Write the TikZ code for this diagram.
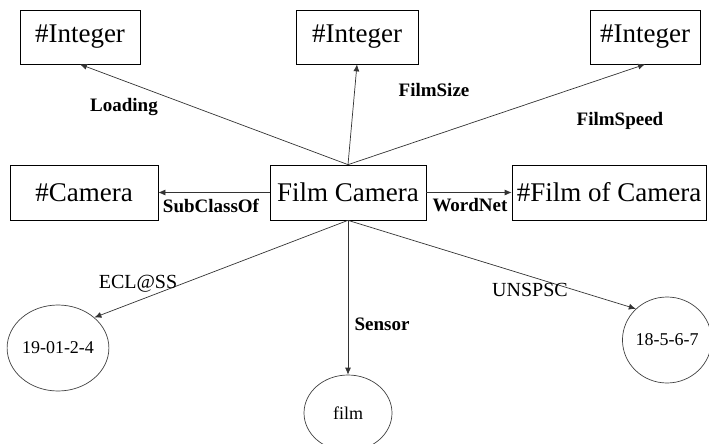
\documentclass[tikz,border=0pt]{standalone}
\usepackage{fontspec}
\setmainfont{Liberation Serif}
\usetikzlibrary{arrows.meta,shapes.geometric}

\tikzset{
  klasse/.style={draw, line width=0.7pt, inner sep=0pt, font=\fontsize{27}{30}\selectfont},
  wert/.style={draw=black!75, ellipse, line width=0.7pt, inner sep=0pt, font=\fontsize{18}{20}\selectfont},
  rel/.style={draw=black!80, line width=0.7pt, -{Latex[length=7pt,width=6pt]}},
  relname/.style={font=\fontsize{19}{21}\selectfont\bfseries, inner sep=0pt},
  codename/.style={font=\fontsize{20}{22}\selectfont, inner sep=0pt}
}

\begin{document}
\begin{tikzpicture}[x=1pt,y=-1pt] % Film Camera mit Eigenschaften
\useasboundingbox (0,0) rectangle (709,444);
    % Klassen (Rechtecke)
    \node[klasse, minimum width=120pt, minimum height=54pt] (int1) at (80,37) {\#Integer};
    \node[klasse, minimum width=122pt, minimum height=54pt] (int2) at (357,37) {\#Integer};
    \node[klasse, minimum width=110pt, minimum height=54pt] (int3) at (645,37) {\#Integer};
    \node[klasse, minimum width=148pt, minimum height=55pt] (cam) at (84,192.5) {\#Camera};
    \node[klasse, minimum width=156pt, minimum height=55pt] (fc) at (348,192.5) {Film Camera};
    \node[klasse, minimum width=194pt, minimum height=55pt] (foc) at (609,192.5) {\#Film of Camera};
    % Werte (Ellipsen)
    \node[wert, minimum width=96pt, minimum height=86pt] (c19) at (58,348) {19-01-2-4};
    \node[wert, minimum width=88pt, minimum height=76pt] (film) at (348,413) {film};
    \node[wert, minimum width=86pt, minimum height=86pt] (c18) at (667,340) {18-5-6-7};

    \draw[rel] (fc.north) -- (int1.south);
    \draw[rel] (fc.north) -- (int2.south);
    \draw[rel] (fc.north) -- (int3.south);
    \draw[rel] (fc.west) -- (cam.east);
    \draw[rel] (fc.east) -- (foc.west);
    \draw[rel] (fc.south) -- (c19.40);
    \draw[rel] (fc.south) -- (film.north);
    \draw[rel] (fc.south) -- (c18.135);

    \node[relname] (loading) at (124,107) {Loading};
    \node[relname] (filmsize) at (434,90) {FilmSize};
    \node[relname] (filmspeed) at (620,121) {FilmSpeed};
    \node[relname] (subclass) at (211,206) {SubClassOf};
    \node[relname] (wordnet) at (470,205) {WordNet};
    \node[relname] (sensor) at (382,324) {Sensor};
    \node[codename] (eclass) at (138,284) {ECL@SS};
    \node[codename] (unspsc) at (530,290) {UNSPSC};
\end{tikzpicture}
\end{document}
